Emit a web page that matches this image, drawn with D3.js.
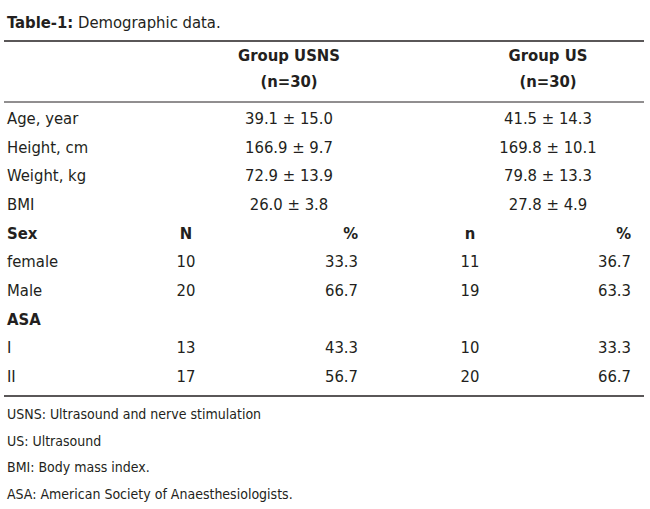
<!DOCTYPE html>
<html><head><meta charset="utf-8">
<script src="https://cdn.jsdelivr.net/npm/d3@7"></script>
<style>body{margin:0;background:#fff}svg text{font-family:"Liberation Sans Narrow","DejaVu Sans Condensed","DejaVu Sans",sans-serif;font-stretch:condensed;fill:#231f20}</style>
</head><body><svg id="c" width="650" height="509"></svg>
<script>
const title = ["Table-1:", " Demographic data."];
const groups = [["Group USNS","(n=30)"],["Group US","(n=30)"]];
const contRows = ["Age, year","Height, cm","Weight, kg","BMI"];
const usnsCont = ["39.1 \u00b1 15.0","166.9 \u00b1 9.7","72.9 \u00b1 13.9","26.0 \u00b1 3.8"];
const usCont = ["41.5 \u00b1 14.3","169.8 \u00b1 10.1","79.8 \u00b1 13.3","27.8 \u00b1 4.9"];
const catRows = [
  {label:"Sex", head:true, a:"N", b:"%", c:"n", d:"%"},
  {label:"female", a:"10", b:"33.3", c:"11", d:"36.7"},
  {label:"Male", a:"20", b:"66.7", c:"19", d:"63.3"},
  {label:"ASA", head:true},
  {label:"I", a:"13", b:"43.3", c:"10", d:"33.3"},
  {label:"II", a:"17", b:"56.7", c:"20", d:"66.7"}
];
const notes = ["USNS: Ultrasound and nerve stimulation","US: Ultrasound","BMI: Body mass index.","ASA: American Society of Anaesthesiologists."];

const svg = d3.select("#c");
const fs = 16.5;
const y = d3.scalePoint().domain(d3.range(10)).range([124,382]);
const t = svg.append("text").attr("x",7).attr("y",28).attr("font-size",fs);
t.append("tspan").attr("font-weight","bold").text(title[0]);
t.append("tspan").text(title[1]);
svg.append("line").attr("x1",4).attr("x2",644).attr("y1",41).attr("y2",41).attr("stroke","#231f20").attr("stroke-width",1.6);
svg.append("line").attr("x1",4).attr("x2",644).attr("y1",102).attr("y2",102).attr("stroke","#231f20").attr("stroke-width",1);
svg.append("line").attr("x1",4).attr("x2",644).attr("y1",396).attr("y2",396).attr("stroke","#231f20").attr("stroke-width",1.6);
const gx=[289,548];
groups.forEach((g,i)=>g.forEach((s,j)=>svg.append("text").attr("x",gx[i]).attr("y",61+j*26).attr("text-anchor","middle").attr("font-size",fs).attr("font-weight","bold").text(s)));
contRows.forEach((r,i)=>{
  svg.append("text").attr("x",7).attr("y",y(i)).attr("font-size",fs).text(r);
  svg.append("text").attr("x",gx[0]).attr("y",y(i)).attr("text-anchor","middle").attr("font-size",fs).text(usnsCont[i]);
  svg.append("text").attr("x",gx[1]).attr("y",y(i)).attr("text-anchor","middle").attr("font-size",fs).text(usCont[i]);
});
catRows.forEach((r,k)=>{
  const yy=y(k+4);
  svg.append("text").attr("x",7).attr("y",yy).attr("font-size",fs).attr("font-weight",r.head?"bold":null).text(r.label);
  const cols=[[r.a,186,"middle"],[r.b,358,"end"],[r.c,470,"middle"],[r.d,631,"end"]];
  cols.forEach(([v,x,a])=>{ if(v) svg.append("text").attr("x",x).attr("y",yy).attr("text-anchor",a).attr("font-size",fs).attr("font-weight",r.head?"bold":null).text(v);});
});
notes.forEach((n,i)=>svg.append("text").attr("x",7).attr("y",419+i*26.5).attr("font-size",14).text(n));
</script></body></html>
